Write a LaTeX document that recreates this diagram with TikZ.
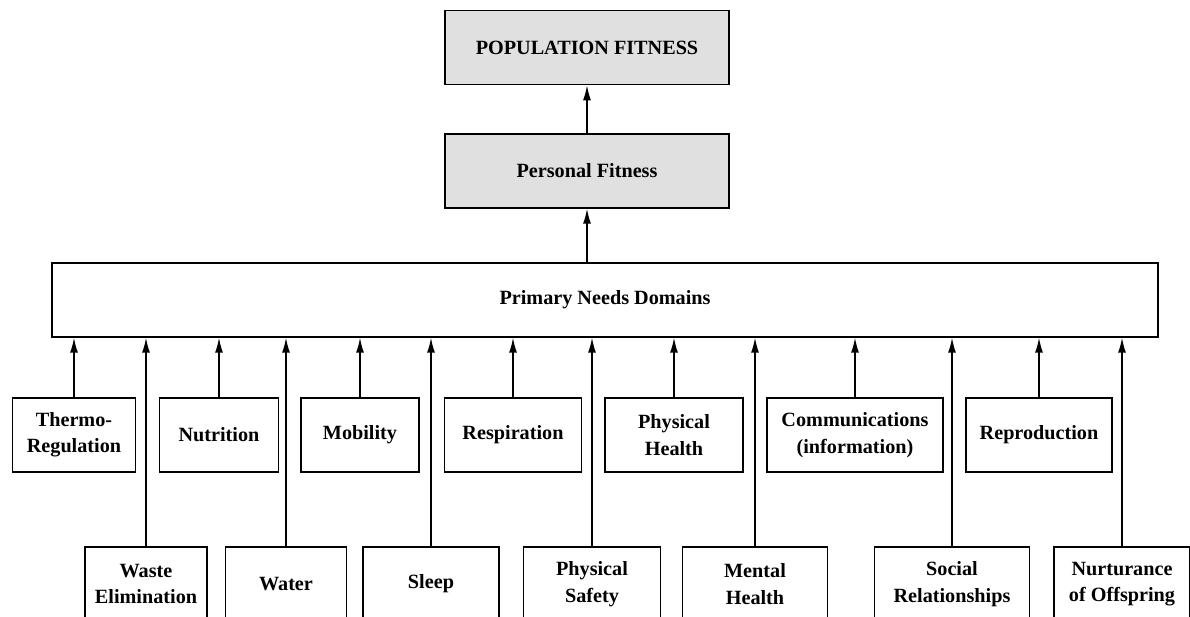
\documentclass[tikz,border=0pt]{standalone}
\usepackage{fontspec}
\setmainfont{Liberation Serif}
\usetikzlibrary{arrows.meta, positioning}

\begin{document}
\begin{tikzpicture}[x=0.02cm, y=-0.02cm, >=Latex]
    % Define the styles
    \tikzset{
        block/.style = {draw, rectangle, line width=0.8pt, minimum height=1.48cm, align=center, inner sep=2pt, font=\bfseries\fontsize{11.5}{15}\selectfont},
        shaded/.style = {block, fill=black!12, minimum width=5.68cm},
        line/.style = {draw, line width=0.8pt, -{Latex[length=3mm, width=1.6mm]}},
    }

    % Picture frame (bottom row is cut by the lower edge)
    \useasboundingbox (0,0) rectangle (1190,616);
    \clip (0,0) rectangle (1190,616);

    % Nodes placement
    \node [block, minimum width=22.12cm] (needs) at (605,300) {Primary Needs Domains};
    \node [shaded] (personal) at (587,171) {Personal Fitness};
    \node [shaded, above=0.96cm of personal] (population) {POPULATION FITNESS};

    % Upper row of needs
    \node [block, minimum width=2.46cm] (thermo) at (74,435) {Thermo-\\Regulation};
    \node [block, minimum width=2.38cm] (nutrition) at (219,435) {Nutrition};
    \node [block, minimum width=2.36cm] (mobility) at (360,435) {Mobility};
    \node [block, minimum width=2.74cm] (respiration) at (513,435) {Respiration};
    \node [block, minimum width=2.76cm] (physhealth) at (674,435) {Physical\\Health};
    \node [block, minimum width=3.52cm] (communication) at (855,435) {Communications\\(information)};
    \node [block, minimum width=2.92cm] (reproduction) at (1039,435) {Reproduction};

    % Lower row of needs
    \node [block, minimum width=2.44cm] (waste) at (146,584) {Waste\\Elimination};
    \node [block, minimum width=2.42cm] (water) at (286,584) {Water};
    \node [block, minimum width=2.72cm] (sleep) at (431,584) {Sleep};
    \node [block, minimum width=2.74cm] (safety) at (592,584) {Physical\\Safety};
    \node [block, minimum width=2.90cm] (mental) at (755,584) {Mental\\Health};
    \node [block, minimum width=3.10cm] (social) at (952,584) {Social\\Relationships};
    \node [block, minimum width=2.72cm] (offspring) at (1122,584) {Nurturance\\of Offspring};

    % Connecting lines
    \draw [line] (personal) -- (population);
    \draw [line] (personal.south |- needs.north) -- (personal.south);
    \draw [line] (thermo) -- (thermo |- needs.south);
    \draw [line] (nutrition) -- (nutrition |- needs.south);
    \draw [line] (mobility) -- (mobility |- needs.south);
    \draw [line] (respiration) -- (respiration |- needs.south);
    \draw [line] (physhealth) -- (physhealth |- needs.south);
    \draw [line] (communication) -- (communication |- needs.south);
    \draw [line] (reproduction) -- (reproduction |- needs.south);
    \draw [line] (waste) -- (waste |- needs.south);
    \draw [line] (water) -- (water |- needs.south);
    \draw [line] (sleep) -- (sleep |- needs.south);
    \draw [line] (safety) -- (safety |- needs.south);
    \draw [line] (mental) -- (mental |- needs.south);
    \draw [line] (social) -- (social |- needs.south);
    \draw [line] (offspring) -- (offspring |- needs.south);

\end{tikzpicture}
\end{document}
